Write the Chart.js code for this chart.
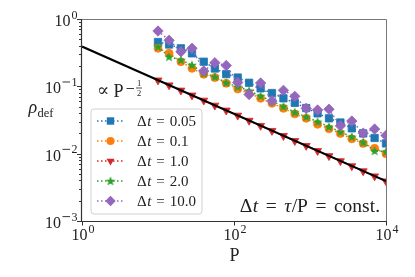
<!DOCTYPE html>
<html>
<head>
<meta charset="utf-8">
<script src="https://cdn.jsdelivr.net/npm/chart.js@4/dist/chart.umd.min.js"></script>
<style>
  html, body { margin: 0; padding: 0; background: #fff; }
  #wrap { width: 415px; height: 277px; }
</style>
</head>
<body>
<div id="wrap"><canvas id="rhoChart"></canvas></div>
<script>
// system sizes P (x values)
const P = [10, 14, 20, 28, 40, 56, 79, 112, 158, 224, 316, 447, 631, 891, 1259, 1778, 2512, 3548, 5012, 7079, 10000];

// defect density for each time step
const rhoDt005 = [0.455, 0.418, 0.367, 0.309, 0.232, 0.184, 0.152, 0.135, 0.113, 0.0934, 0.0795, 0.0664, 0.0569, 0.0476, 0.0397, 0.0335, 0.029, 0.0238, 0.020, 0.0171, 0.0142];
const rhoDt01 = [0.367, 0.309, 0.232, 0.185, 0.151, 0.135, 0.111, 0.0912, 0.0787, 0.0664, 0.0559, 0.0471, 0.039, 0.0335, 0.0273, 0.0234, 0.0199, 0.0166, 0.0142, 0.012, 0.00997];
const rhoDt1 = [0.123, 0.104, 0.087, 0.0735, 0.0617, 0.052, 0.0439, 0.0369, 0.031, 0.026, 0.0219, 0.0184, 0.0155, 0.0131, 0.011, 0.00925, 0.00778, 0.00655, 0.00551, 0.00463, 0.0039];
const rhoDt2 = [0.388, 0.275, 0.246, 0.207, 0.156, 0.139, 0.113, 0.0986, 0.0861, 0.0718, 0.0605, 0.0501, 0.0411, 0.0353, 0.0298, 0.0251, 0.0211, 0.0178, 0.0147, 0.011, 0.0107];
const rhoDt10 = [0.663, 0.483, 0.327, 0.367, 0.169, 0.224, 0.204, 0.114, 0.0755, 0.112, 0.0605, 0.0872, 0.071, 0.0471, 0.0445, 0.0457, 0.0259, 0.0305, 0.0202, 0.0232, 0.0186];

// guide line proportional to P^-1/2
const guideP = [1, 10000];
const guideRho = [0.39, 0.0039];

const legendLabels = ["0.05", "0.1", "1.0", "2.0", "10.0"];
const yTickVals = [1, 0.1, 0.01, 0.001];
const yTickExp = [0, -1, -2, -3];
const xTickVals = [1, 100, 10000];
const xTickExp = [0, 2, 4];

const SERIF = '"Liberation Serif", "DejaVu Serif", serif';
const INK = "#222";
const colors = ["#1f77b4", "#ff7f0e", "#d62728", "#2ca02c", "#9467bd"];

// filled five point star like matplotlib's "*"
function starPath(ctx, x, y, r) {
  ctx.beginPath();
  for (let i = 0; i < 10; i++) {
    const rr = i % 2 === 0 ? r : r * 0.42;
    const a = -Math.PI / 2 + i * Math.PI / 5;
    ctx.lineTo(x + rr * Math.cos(a), y + rr * Math.sin(a));
  }
  ctx.closePath();
}
function makeStar(color) {
  const c = document.createElement("canvas");
  c.width = 12; c.height = 12;
  const g = c.getContext("2d");
  starPath(g, 6, 6.4, 5.2);
  g.fillStyle = color;
  g.fill();
  return c;
}
const starImg = makeStar(colors[3]);

function pts(ys) {
  return P.map((p, i) => ({ x: p, y: ys[i] }));
}

function series(ys, color, style, radius, order, extra) {
  return Object.assign({
    data: pts(ys),
    borderColor: color,
    backgroundColor: color,
    borderWidth: 1.5,
    borderDash: [1.5, 2.5],
    pointStyle: style,
    pointRadius: radius,
    pointBorderWidth: 0.8,
    pointBorderColor: color,
    pointBackgroundColor: color,
    fill: false,
    tension: 0,
    order: order,
  }, extra || {});
}

// legend marker drawn by hand
function legendMarker(ctx, i, x, y) {
  ctx.save();
  ctx.fillStyle = colors[i];
  ctx.beginPath();
  if (i === 0) {
    ctx.rect(x - 3.7, y - 3.7, 7.4, 7.4);
    ctx.fill();
  } else if (i === 1) {
    ctx.arc(x, y, 4, 0, Math.PI * 2);
    ctx.fill();
  } else if (i === 2) {
    ctx.moveTo(x - 4, y - 2.3);
    ctx.lineTo(x + 4, y - 2.3);
    ctx.lineTo(x, y + 4.6);
    ctx.closePath();
    ctx.fill();
  } else if (i === 3) {
    ctx.drawImage(starImg, x - 6, y - 6);
  } else {
    ctx.moveTo(x, y - 5.2);
    ctx.lineTo(x + 5.2, y);
    ctx.lineTo(x, y + 5.2);
    ctx.lineTo(x - 5.2, y);
    ctx.closePath();
    ctx.fill();
  }
  ctx.restore();
}

// "10" with a raised exponent, minus drawn as a wide bar like TeX
function drawPow(ctx, exp, x, y, align) {
  ctx.font = "16px " + SERIF;
  const wb = ctx.measureText("10").width;
  ctx.font = "12px " + SERIF;
  const digit = String(Math.abs(exp));
  const wd = ctx.measureText(digit).width;
  const wm = exp < 0 ? 9.5 : 0;
  const total = wb + 1 + wm + wd;
  let x0 = x;
  if (align === "right") x0 = x - total;
  if (align === "center") x0 = x - total / 2;
  ctx.textAlign = "left";
  ctx.textBaseline = "alphabetic";
  ctx.font = "16px " + SERIF;
  ctx.fillText("10", x0, y);
  let xe = x0 + wb + 1;
  if (exp < 0) {
    ctx.fillRect(xe + 0.5, y - 11.8, 7.5, 0.9);
    xe += wm;
  }
  ctx.font = "12px " + SERIF;
  ctx.fillText(digit, xe, y - 7.5);
}

// run of math pieces: [text, italic, gapAfter]
function drawRun(ctx, pieces, size, x, y, align) {
  let total = 0;
  pieces.forEach((p) => {
    ctx.font = (p[1] ? "italic " : "") + size + "px " + SERIF;
    total += ctx.measureText(p[0]).width + (p[2] || 0);
  });
  let cx = align === "right" ? x - total : x;
  ctx.textAlign = "left";
  ctx.textBaseline = "alphabetic";
  pieces.forEach((p) => {
    ctx.font = (p[1] ? "italic " : "") + size + "px " + SERIF;
    ctx.fillText(p[0], cx, y);
    cx += ctx.measureText(p[0]).width + (p[2] || 0);
  });
  return cx;
}

const decorPlugin = {
  id: "decor",
  afterDraw(chart) {
    const ctx = chart.ctx;
    const a = chart.chartArea;
    const xs = chart.scales.x, ys = chart.scales.y;
    ctx.save();

    // frame
    ctx.strokeStyle = "#777";
    ctx.lineWidth = 1;
    ctx.beginPath();
    ctx.moveTo(a.left, a.top + 0.5);
    ctx.lineTo(a.right + 0.5, a.top + 0.5);
    ctx.lineTo(a.right + 0.5, a.bottom);
    ctx.stroke();
    ctx.strokeStyle = "#333";
    ctx.lineWidth = 1.2;
    ctx.beginPath();
    ctx.moveTo(a.left - 0.5, a.top);
    ctx.lineTo(a.left - 0.5, a.bottom + 0.5);
    ctx.lineTo(a.right + 1, a.bottom + 0.5);
    ctx.stroke();

    // y ticks, major and minor
    ctx.lineWidth = 1;
    ctx.strokeStyle = "#333";
    for (let e = -3; e <= 0; e++) {
      for (let m = 1; m <= 9; m++) {
        const v = m * Math.pow(10, e);
        if (v > 1.0001) break;
        const py = Math.round(ys.getPixelForValue(v)) + 0.5;
        const len = m === 1 ? 4.5 : 2.5;
        ctx.beginPath();
        ctx.moveTo(a.left - 0.5, py);
        ctx.lineTo(a.left - 0.5 - len, py);
        ctx.stroke();
      }
    }
    // x ticks
    xTickVals.forEach((v) => {
      const px = Math.round(xs.getPixelForValue(v)) + 0.5;
      ctx.beginPath();
      ctx.moveTo(px, a.bottom);
      ctx.lineTo(px, a.bottom + 4.5);
      ctx.stroke();
    });

    // tick labels
    ctx.fillStyle = INK;
    yTickVals.forEach((v, i) => {
      drawPow(ctx, yTickExp[i], 77.5, ys.getPixelForValue(v) + 7, "right");
    });
    xTickVals.forEach((v, i) => {
      drawPow(ctx, xTickExp[i], xs.getPixelForValue(v) + 1, 240, "center");
    });

    // axis titles
    ctx.textAlign = "center";
    ctx.textBaseline = "alphabetic";
    ctx.font = "18px " + SERIF;
    ctx.fillText("P", 234.5, 261);
    ctx.textAlign = "left";
    ctx.font = "italic 18px " + SERIF;
    ctx.fillText("\u03c1", 28.5, 113);
    ctx.font = "12.5px " + SERIF;
    ctx.fillText("def", 37.5, 117);

    // annotation proportional to P^-1/2
    ctx.font = "18px " + SERIF;
    ctx.fillText("\u221d", 97, 96);
    ctx.fillText("P", 113.5, 96.5);
    ctx.fillRect(126.5, 88, 7.5, 0.9);
    ctx.font = "8.5px " + SERIF;
    ctx.textAlign = "center";
    ctx.fillText("1", 139, 86);
    ctx.fillText("2", 139, 95.5);
    ctx.fillRect(136, 87.6, 6, 0.8);

    // constant time step note
    drawRun(ctx, [
      ["\u0394", false, 0.5], ["t", true, 7.5], ["=", false, 7.5],
      ["\u03c4", true, 0.5], ["/", false, 0], ["P", false, 7.5],
      ["=", false, 7.5], ["const.", false, 0],
    ], 19.5, 380, 212, "right");

    // legend box
    const lx = 91, ly = 109, lw = 111, lh = 105, r = 3;
    ctx.beginPath();
    ctx.moveTo(lx + r, ly);
    ctx.arcTo(lx + lw, ly, lx + lw, ly + lh, r);
    ctx.arcTo(lx + lw, ly + lh, lx, ly + lh, r);
    ctx.arcTo(lx, ly + lh, lx, ly, r);
    ctx.arcTo(lx, ly, lx + lw, ly, r);
    ctx.closePath();
    ctx.fillStyle = "rgba(255,255,255,0.8)";
    ctx.fill();
    ctx.strokeStyle = "#d0d0d0";
    ctx.lineWidth = 1;
    ctx.stroke();

    legendLabels.forEach((lab, i) => {
      const y = 121 + i * 20;
      ctx.save();
      ctx.strokeStyle = colors[i];
      ctx.lineWidth = 1.5;
      ctx.setLineDash([1.5, 2.5]);
      ctx.beginPath();
      ctx.moveTo(97, y);
      ctx.lineTo(124, y);
      ctx.stroke();
      ctx.restore();
      legendMarker(ctx, i, 110.5, y);
      ctx.fillStyle = INK;
      drawRun(ctx, [
        ["\u0394", false, 0.5], ["t", true, 5], ["=", false, 5], [lab, false, 0],
      ], 15, 137, y + 5, "left");
    });

    ctx.restore();
  },
};

const ctx = document.getElementById("rhoChart");
new Chart(ctx, {
  type: "line",
  data: {
    datasets: [
      {
        data: guideP.map((p, i) => ({ x: p, y: guideRho[i] })),
        borderColor: "#000",
        borderWidth: 2,
        pointRadius: 0,
        fill: false,
        order: 0,
      },
      series(rhoDt10, colors[4], "rectRot", 5.2, 1),
      series(rhoDt2, colors[3], starImg, 5, 2),
      series(rhoDt1, colors[2], "triangle", 4.6, 3, { pointRotation: 180 }),
      series(rhoDt01, colors[1], "circle", 4, 4),
      series(rhoDt005, colors[0], "rect", 5.2, 5),
    ],
  },
  options: {
    responsive: true,
    maintainAspectRatio: false,
    animation: false,
    layout: { padding: { left: 0, top: 19, right: 29, bottom: 0 } },
    plugins: {
      legend: { display: false },
      tooltip: { enabled: false },
    },
    scales: {
      x: {
        type: "logarithmic",
        min: 1,
        max: 10000,
        grid: { display: false },
        border: { display: false },
        ticks: { display: false },
        afterFit: (s) => { s.height = 56; },
      },
      y: {
        type: "logarithmic",
        min: 0.001,
        max: 1,
        grid: { display: false },
        border: { display: false },
        ticks: { display: false },
        afterFit: (s) => { s.width = 82; },
      },
    },
  },
  plugins: [decorPlugin],
});
</script>
</body>
</html>
